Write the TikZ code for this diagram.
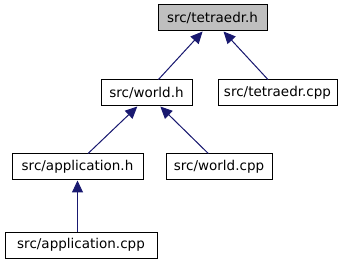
\documentclass[tikz,border=0pt]{standalone}
\usepackage{fontspec}
\setmainfont{DejaVu Sans}
\usetikzlibrary{arrows.meta,calc}
\definecolor{edgeblue}{HTML}{191970}
\definecolor{focusgray}{HTML}{BFBFBF}
\begin{document}
\begin{tikzpicture}[x=1pt,y=-1pt,
  file/.style={draw=black,line width=1pt,fill=white,inner sep=0pt,
    minimum height=26pt,font=\fontsize{13.5}{16}\selectfont},
  focus/.style={file,fill=focusgray},
  dep/.style={draw=edgeblue,line width=1pt,
    -{Triangle[length=12pt,width=11pt]},fill=edgeblue}]
\useasboundingbox (0,0) rectangle (347,261);
% include graph nodes
\node[focus,minimum width=109pt] (th)   at (212.5,18)  {src/tetraedr.h};
\node[file,minimum width=91pt]   (wh)   at (146.5,93)  {src/world.h};
\node[file,minimum width=119pt]  (tcpp) at (277.5,93)  {src/tetraedr.cpp};
\node[file,minimum width=131pt]  (ah)   at (77.5,167)  {src/application.h};
\node[file,minimum width=106pt]  (wcpp) at (219,167)   {src/world.cpp};
\node[file,minimum width=152pt]  (acpp) at (81,245)    {src/application.cpp};
% dependency edges, arrow pointing at the included file
\draw[dep] ($(wh.north west)!0.63!(wh.north east)$) -- ($(th.south west)!0.41!(th.south east)$);
\draw[dep] ($(tcpp.north west)!0.42!(tcpp.north east)$) -- ($(th.south west)!0.60!(th.south east)$);
\draw[dep] ($(ah.north west)!0.58!(ah.north east)$) -- ($(wh.south west)!0.40!(wh.south east)$);
\draw[dep] ($(wcpp.north west)!0.40!(wcpp.north east)$) -- ($(wh.south west)!0.65!(wh.south east)$);
\draw[dep] (acpp.north -| ah.south) -- (ah.south);
\end{tikzpicture}
\end{document}
